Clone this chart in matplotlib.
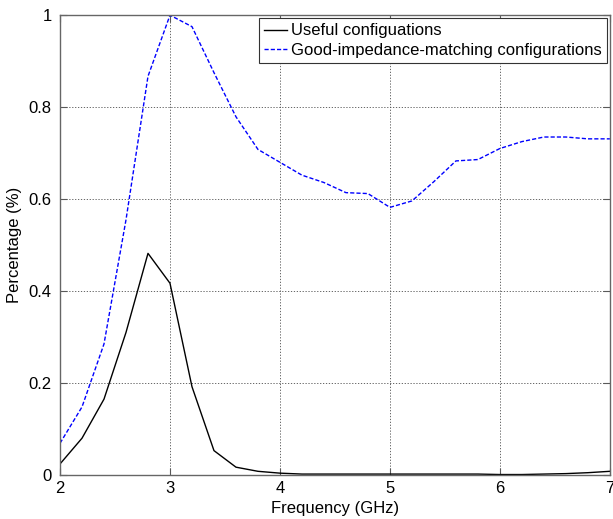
import matplotlib
matplotlib.use("Agg")
import matplotlib.pyplot as plt

# Frequency sweep, 2 to 7 GHz in 0.2 GHz steps
freq = [2.0, 2.2, 2.4, 2.6, 2.8, 3.0, 3.2, 3.4, 3.6, 3.8, 4.0, 4.2, 4.4,
        4.6, 4.8, 5.0, 5.2, 5.4, 5.6, 5.8, 6.0, 6.2, 6.4, 6.6, 6.8, 7.0]

useful = [0.024, 0.080, 0.165, 0.31, 0.482, 0.417, 0.192, 0.053, 0.017,
          0.008, 0.004, 0.002, 0.002, 0.002, 0.002, 0.002, 0.002, 0.002,
          0.002, 0.002, 0.001, 0.001, 0.002, 0.003, 0.005, 0.008]

good_match = [0.069, 0.148, 0.285, 0.555, 0.867, 1.0, 0.975, 0.875, 0.779,
              0.708, 0.680, 0.652, 0.636, 0.614, 0.612, 0.582, 0.596, 0.638,
              0.683, 0.686, 0.710, 0.725, 0.735, 0.735, 0.731, 0.731]

labels = ["Useful configuations", "Good-impedance-matching configurations"]

plt.rcParams["font.family"] = ["Liberation Sans", "DejaVu Sans"]
plt.rcParams["font.size"] = 12

fig = plt.figure(figsize=(6.13, 5.19), dpi=100)
ax = fig.add_axes([0.0979, 0.0848, 0.897, 0.886])

ax.plot(freq, useful, color="black", linewidth=1.0, label=labels[0])
ax.plot(freq, good_match, color="#0000ff", linewidth=1.0,
        linestyle=(0, (3, 1.5)), label=labels[1])

ax.set_xlim(2, 7)
ax.set_ylim(0, 1)
ax.set_xticks([2, 3, 4, 5, 6, 7])
ax.set_yticks([0, 0.2, 0.4, 0.6, 0.8, 1.0])
ax.set_yticklabels(["0", "0.2", "0.4", "0.6", "0.8", "1"])

# MATLAB-like dotted grid and inward ticks on all four sides
ax.grid(True, linestyle=(0, (1.5, 2)), color="0.3", linewidth=0.6)
ax.tick_params(direction="in", top=True, right=True, length=5,
               color="0.35", labelsize=12)
ax.tick_params(axis="x", pad=4)
ax.tick_params(axis="y", pad=6)
for sp in ax.spines.values():
    sp.set_color("0.4")
    sp.set_linewidth(1.0)

ax.set_xlabel("Frequency (GHz)", fontsize=12, labelpad=4)
ax.set_ylabel("Percentage (%)", fontsize=12, labelpad=5)

leg = ax.legend(loc="upper right", borderaxespad=0.2, handlelength=1.35,
                handletextpad=0.25, labelspacing=0.25, borderpad=0.3,
                fancybox=False, framealpha=1, fontsize=12)
leg.get_frame().set_edgecolor("0.2")
leg.get_frame().set_linewidth(0.8)

fig.savefig("out.png", dpi=100)
